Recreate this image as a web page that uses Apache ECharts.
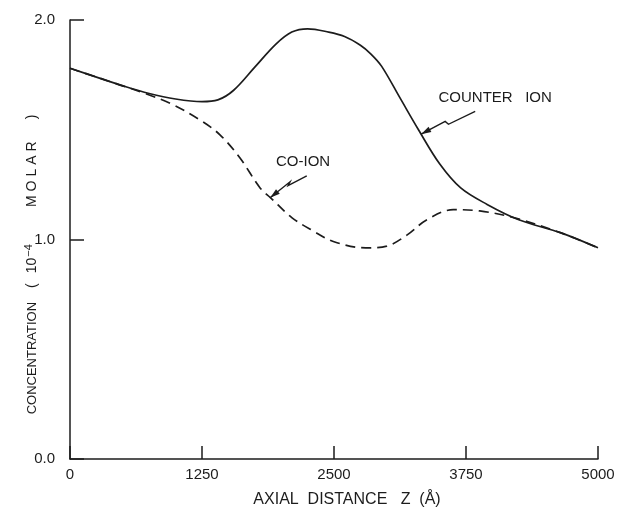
<!DOCTYPE html>
<html>
<head>
<meta charset="utf-8">
<script src="https://cdn.jsdelivr.net/npm/echarts@6/dist/echarts.min.js"></script>
<style>html,body{margin:0;padding:0;background:#fff}#c{width:622px;height:508px}</style>
</head>
<body>
<div id="c"></div>
<script>
// Data (axial distance in Å, concentration in 1e-4 molar)
var counterX = [0, 250, 500, 750, 1000, 1250, 1400, 1550, 1750, 1950, 2100, 2250, 2450, 2600, 2750, 2850, 2950, 3125, 3300, 3500, 3700, 3950, 4250, 4650, 5000];
var counterY = [1.78, 1.74, 1.70, 1.665, 1.64, 1.628, 1.636, 1.68, 1.785, 1.89, 1.945, 1.96, 1.945, 1.925, 1.885, 1.845, 1.79, 1.645, 1.50, 1.345, 1.235, 1.16, 1.09, 1.03, 0.962];
var coX = [0, 250, 500, 700, 950, 1230, 1420, 1610, 1800, 1900, 2100, 2300, 2500, 2800, 3000, 3190, 3380, 3630, 3880, 4200, 4650, 5000];
var coY = [1.78, 1.74, 1.70, 1.667, 1.62, 1.545, 1.477, 1.371, 1.235, 1.19, 1.10, 1.04, 0.99, 0.962, 0.97, 1.02, 1.09, 1.136, 1.13, 1.10, 1.03, 0.962];
var xTicks = [0, 1250, 2500, 3750, 5000];
var yTicks = [0.0, 1.0, 2.0];
// Annotation anchors (data units): label position and lightning-arrow path ending at the curve
var counterLabel = {text: 'COUNTER   ION', x: 4026, y: 1.647};
var counterArrow = [[3837, 1.584], [3584, 1.525], [3553, 1.538], [3325, 1.480]];
var coLabel = {text: 'CO-ION', x: 2207, y: 1.352};
var coArrow = [[2242, 1.290], [2065, 1.245], [2084, 1.263], [1895, 1.19]];

var ink = '#1c1c1c';
var font = 'Liberation Sans, DejaVu Sans, sans-serif';
var chart = echarts.init(document.getElementById('c'), null, {renderer: 'canvas'});

function pairs(xs, ys) { return xs.map(function (x, i) { return [x, ys[i]]; }); }

chart.setOption({
  backgroundColor: '#fff',
  animation: false,
  grid: {left: 70, right: 24, top: 20, bottom: 49, outerBoundsMode: 'none', containLabel: false},
  xAxis: {
    type: 'value', min: xTicks[0], max: xTicks[xTicks.length - 1], interval: 1250,
    name: 'AXIAL  DISTANCE   Z  (\u00C5)', nameLocation: 'middle', nameGap: 33, nameMoveOverlap: false,
    nameTextStyle: {color: ink, fontFamily: font, fontSize: 16, padding: [0, 0, 0, 26]},
    axisLine: {show: true, lineStyle: {color: ink, width: 1.5}},
    axisTick: {show: true, inside: true, length: 13, lineStyle: {color: ink, width: 1.5}},
    axisLabel: {color: ink, fontFamily: font, fontSize: 15, margin: 8, formatter: function (v) { return String(v); }},
    splitLine: {show: false}
  },
  yAxis: {
    type: 'value', min: yTicks[0], max: yTicks[yTicks.length - 1], interval: 1,
    name: '{a|CONCENTRATION}{p|(}{n|10}{s|\u22124}{m|M}{l|O}{l|L}{l|A}{l|R}{q|)}',
    nameLocation: 'middle', nameGap: 29, nameRotate: 90, nameMoveOverlap: false,
    nameTextStyle: {color: ink, fontFamily: font, fontSize: 14, padding: [0, 50, 0, 0],
      rich: {
        a: {fontSize: 13, fontFamily: font, color: ink},
        p: {fontSize: 14, fontFamily: font, color: ink, padding: [0, 0, 0, 14]},
        n: {fontSize: 14, fontFamily: font, color: ink, padding: [0, 0, 0, 10]},
        s: {fontSize: 11, fontFamily: font, color: ink, verticalAlign: 'top', padding: [0, 0, 7, 1]},
        m: {fontSize: 14, fontFamily: font, color: ink, padding: [0, 0, 0, 37]},
        l: {fontSize: 14, fontFamily: font, color: ink, padding: [0, 0, 0, 4]},
        q: {fontSize: 14, fontFamily: font, color: ink, padding: [0, 0, 0, 22]}
      }},
    axisLine: {show: true, lineStyle: {color: ink, width: 1.5}},
    axisTick: {show: true, inside: true, length: 14, lineStyle: {color: ink, width: 1.5}},
    axisLabel: {color: ink, fontFamily: font, fontSize: 15, margin: 15, formatter: function (v) { return v.toFixed(1); }},
    splitLine: {show: false}
  },
  series: [
    {name: 'Counter ion', type: 'line', smooth: 0.35, symbol: 'none', data: pairs(counterX, counterY),
      lineStyle: {color: ink, width: 1.7}},
    {name: 'Co-ion', type: 'line', smooth: 0.35, symbol: 'none', data: pairs(coX, coY),
      lineStyle: {color: ink, width: 1.7, type: [10, 6]}}
  ]
});

function px(p) { return chart.convertToPixel({gridIndex: 0}, p); }
function arrowGraphics(path) {
  var pts = path.map(px);
  var n = pts.length;
  var tip = pts[n - 1], prev = pts[n - 2];
  var dx = tip[0] - prev[0], dy = tip[1] - prev[1];
  var L = Math.sqrt(dx * dx + dy * dy); dx /= L; dy /= L;
  var hl = 10, hw = 3;
  var bx = tip[0] - dx * hl, by = tip[1] - dy * hl;
  return [
    {type: 'polyline', shape: {points: pts}, style: {stroke: ink, lineWidth: 1.4, fill: null}},
    {type: 'polygon', shape: {points: [tip, [bx - dy * hw, by + dx * hw], [bx + dy * hw, by - dx * hw]]}, style: {fill: ink}}
  ];
}
function labelGraphic(l) {
  var p = px([l.x, l.y]);
  return {type: 'text', x: p[0], y: p[1], style: {text: l.text, fill: ink, font: '15px ' + font, textAlign: 'center', textVerticalAlign: 'middle'}};
}
chart.setOption({
  graphic: [labelGraphic(counterLabel), labelGraphic(coLabel)].concat(arrowGraphics(counterArrow), arrowGraphics(coArrow))
});
</script>
</body>
</html>
